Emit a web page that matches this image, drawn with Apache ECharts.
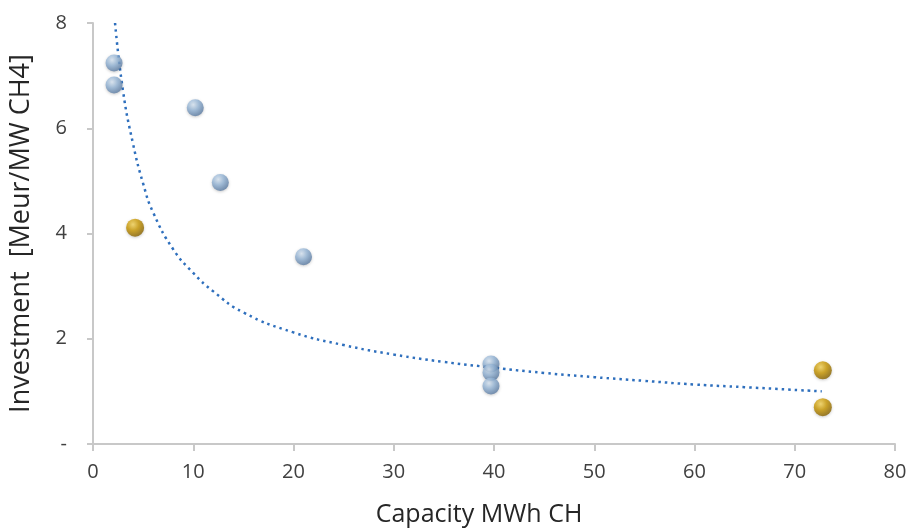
<!DOCTYPE html>
<html lang="en">
<head>
<meta charset="UTF-8">
<title>Investment vs capacity</title>
<script src="https://cdn.jsdelivr.net/npm/echarts@6/dist/echarts.min.js"></script>
<style>
  html, body { margin: 0; padding: 0; background: #fff; }
  #chart { width: 910px; height: 532px; }
</style>
</head>
<body>
<div id="chart"></div>
<script>
// blue spheres [capacity, investment]
var bluePoints = [
    [2.1, 7.24], [2.1, 6.82], [10.2, 6.39], [12.7, 4.97],
    [21.0, 3.56], [39.7, 1.52], [39.7, 1.36], [39.7, 1.10]
];
// gold spheres
var goldPoints = [
    [4.2, 4.11], [72.8, 1.40], [72.8, 0.70]
];
// dotted trend line
var trendPoints = [
    [2.2, 8.0], [3, 6.7], [4, 5.7], [5, 4.95], [6, 4.4], [8, 3.7],
    [10, 3.25], [12, 2.9], [15, 2.5], [20, 2.12], [25, 1.88], [30, 1.7],
    [35, 1.56], [40, 1.45], [45, 1.35], [50, 1.27], [55, 1.2],
    [60, 1.13], [65, 1.08], [72.7, 1.0]
];
var xTicks = { min: 0, max: 80, interval: 10 };
var yTicks = { min: 0, max: 8, interval: 2 };

function sphere(light, mid, dark) {
    return {
        type: 'radial', x: 0.38, y: 0.32, r: 0.75,
        colorStops: [
            { offset: 0, color: light },
            { offset: 0.45, color: mid },
            { offset: 1, color: dark }
        ]
    };
}

var chart = echarts.init(document.getElementById('chart'));
var axisGrey = '#c8c8c8';
var textGrey = '#404040';
var font = 'Open Sans';

chart.setOption({
    backgroundColor: '#fff',
    animation: false,
    grid: { left: 93, right: 15, top: 23, bottom: 87 },
    xAxis: {
        type: 'value',
        min: xTicks.min, max: xTicks.max, interval: xTicks.interval,
        name: 'Capacity MWh CH',
        nameLocation: 'middle',
        nameGap: 58,
        nameTextStyle: { fontSize: 25, color: '#262626', fontFamily: font, padding: [0, 30, 0, 0] },
        axisLine: { lineStyle: { color: axisGrey, width: 2 } },
        axisTick: { show: true, length: 7, lineStyle: { color: axisGrey, width: 2 } },
        axisLabel: { fontSize: 20, color: textGrey, fontFamily: font, margin: 18 },
        splitLine: { show: false }
    },
    yAxis: {
        type: 'value',
        min: yTicks.min, max: yTicks.max, interval: yTicks.interval,
        name: 'Investment  [Meur/MW CH4]',
        nameLocation: 'middle',
        nameRotate: 90,
        nameGap: 58,
        nameTextStyle: { fontSize: 27, color: '#262626', fontFamily: font },
        axisLine: { show: true, lineStyle: { color: axisGrey, width: 2 } },
        axisTick: { show: true, length: 6, lineStyle: { color: axisGrey, width: 2 } },
        axisLabel: {
            fontSize: 20, color: textGrey, fontFamily: font, margin: 26,
            formatter: function (v) { return v === 0 ? '-' : String(v); }
        },
        splitLine: { show: false }
    },
    series: [{
        name: 'trend',
        type: 'line',
        data: trendPoints,
        smooth: true,
        symbol: 'none',
        z: 1,
        lineStyle: { color: '#2e6fbd', width: 2.5, type: [2.5, 4] }
    }, {
        name: 'blue',
        type: 'scatter',
        data: bluePoints,
        symbolSize: 17,
        z: 3,
        itemStyle: {
            color: sphere('#dbe8f5', '#93b4d6', '#52729a'),
            shadowColor: 'rgba(0,0,0,0.25)', shadowBlur: 3, shadowOffsetY: 1
        }
    }, {
        name: 'gold',
        type: 'scatter',
        data: goldPoints,
        symbolSize: 18,
        z: 3,
        itemStyle: {
            color: sphere('#f6d55a', '#c99700', '#7d5a00'),
            shadowColor: 'rgba(0,0,0,0.25)', shadowBlur: 3, shadowOffsetY: 1
        }
    }]
});
</script>
</body>
</html>
